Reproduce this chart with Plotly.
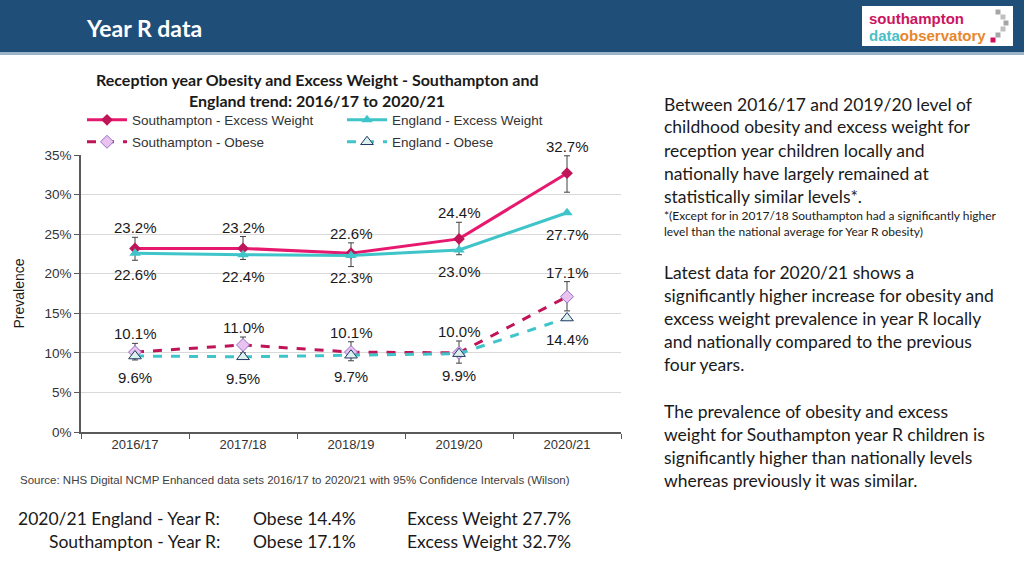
import plotly.graph_objects as go

# ---------------- data ----------------
years = ["2016/17", "2017/18", "2018/19", "2019/20", "2020/21"]
soton_excess = [23.2, 23.2, 22.6, 24.4, 32.7]
soton_excess_hi = [24.6, 24.7, 23.9, 26.5, 34.9]
soton_excess_lo = [21.7, 21.8, 20.9, 22.4, 30.3]
eng_excess = [22.6, 22.4, 22.3, 23.0, 27.7]
soton_obese = [10.1, 11.0, 10.1, 10.0, 17.1]
soton_obese_hi = [11.2, 12.0, 11.4, 11.5, 19.0]
soton_obese_lo = [9.1, 10.0, 9.0, 8.7, 15.3]
eng_obese = [9.6, 9.5, 9.7, 9.9, 14.4]
y_ticks = [0, 5, 10, 15, 20, 25, 30, 35]

W, H = 1024, 576
L, R, T, B = 81, 621, 155, 432


def px(x):
    return (x - L) / (R - L)


def py(y):
    return (B - y) / (B - T)


PINK = "#E6196E"
PINK_D = "#C01459"
TEAL = "#3FC5C9"
FONT = "Arial"
BODY = "Lato"

fig = go.Figure()

fig.add_trace(go.Scatter(
    x=years, y=soton_excess, name="Southampton - Excess Weight",
    mode="lines+markers", line=dict(color=PINK, width=3),
    marker=dict(symbol="diamond", size=9, color=PINK_D),
    error_y=dict(type="data", symmetric=False,
                 array=[h - v for h, v in zip(soton_excess_hi, soton_excess)],
                 arrayminus=[v - l for l, v in zip(soton_excess_lo, soton_excess)],
                 color="#404040", thickness=1, width=3),
    legend="legend"))
fig.add_trace(go.Scatter(
    x=years, y=eng_excess, name="England - Excess Weight",
    mode="lines+markers", line=dict(color=TEAL, width=3),
    marker=dict(symbol="triangle-up", size=10, color=TEAL),
    legend="legend"))
fig.add_trace(go.Scatter(
    x=years, y=soton_obese, name="Southampton - Obese",
    mode="lines+markers", line=dict(color=PINK_D, width=3, dash="dash"),
    marker=dict(symbol="diamond", size=10, color="#E8C3F0",
                line=dict(color="#9B6FC9", width=1)),
    error_y=dict(type="data", symmetric=False,
                 array=[h - v for h, v in zip(soton_obese_hi, soton_obese)],
                 arrayminus=[v - l for l, v in zip(soton_obese_lo, soton_obese)],
                 color="#404040", thickness=1, width=3),
    legend="legend2"))
fig.add_trace(go.Scatter(
    x=years, y=eng_obese, name="England - Obese",
    mode="lines+markers", line=dict(color=TEAL, width=3, dash="dash"),
    marker=dict(symbol="triangle-up", size=11, color="#DDF1EC",
                line=dict(color="#1F3864", width=1)),
    legend="legend2"))

ann = []
lab_font = dict(family=FONT, size=15, color="#1a1a1a")
# Southampton labels above upper CI, England labels below point
for yr, v, hi in zip(years, soton_excess, soton_excess_hi):
    ann.append(dict(x=yr, y=hi, text=f"{v:.1f}%", showarrow=False,
                    yanchor="bottom", yshift=-1, font=lab_font))
for yr, v in zip(years, eng_excess):
    ann.append(dict(x=yr, y=v, text=f"{v:.1f}%", showarrow=False,
                    yanchor="top", yshift=-11, font=lab_font))
for yr, v, hi in zip(years, soton_obese, soton_obese_hi):
    ann.append(dict(x=yr, y=hi, text=f"{v:.1f}%", showarrow=False,
                    yanchor="bottom", yshift=-1, font=lab_font))
for yr, v in zip(years, eng_obese):
    ann.append(dict(x=yr, y=v, text=f"{v:.1f}%", showarrow=False,
                    yanchor="top", yshift=-11, font=lab_font))


def ptext(x, y, text, size, color="#1a1a1a", family=BODY, xanchor="left",
          bold=False, yanchor="middle"):
    if bold:
        text = f"<b>{text}</b>"
    ann.append(dict(xref="paper", yref="paper", x=px(x), y=py(y), text=text,
                    showarrow=False, xanchor=xanchor, yanchor=yanchor,
                    font=dict(family=family, size=size, color=color)))


# header
ptext(84, 28, "Year R data", 23, color="white", bold=True)
# logo text
LOGO_FONT = "Liberation Sans Narrow, Arial Narrow, Arial"
ann.append(dict(xref="paper", yref="paper", x=px(867), y=py(19),
                text="<b>southampton</b>", showarrow=False, xanchor="left",
                yanchor="middle",
                font=dict(family=LOGO_FONT, size=15, color="#CC1460")))
ann.append(dict(xref="paper", yref="paper", x=px(867), y=py(35),
                text="<b><span style='color:#48C0C8'>data</span><span style='color:#E8862A'>observatory</span></b>",
                showarrow=False, xanchor="left", yanchor="middle",
                font=dict(family=LOGO_FONT, size=15, color="#E8862A")))

# chart title
ptext(317, 80, "Reception year Obesity and Excess Weight - Southampton and", 16,
      xanchor="center", bold=True)
ptext(317, 101, "England trend: 2016/17 to 2020/21", 16, xanchor="center", bold=True)

# source
ptext(18, 480, "Source: NHS Digital NCMP Enhanced data sets 2016/17 to 2020/21 with 95% Confidence Intervals (Wilson)",
      11.5, color="#404040", family=FONT)

# bottom summary
ptext(222, 518, "2020/21 England - Year R:", 17.5, xanchor="right")
ptext(222, 541, "Southampton - Year R:", 17.5, xanchor="right")
ptext(251, 518, "Obese 14.4%", 17.5)
ptext(251, 541, "Obese 17.1%", 17.5)
ptext(405, 518, "Excess Weight 27.7%", 17.5)
ptext(405, 541, "Excess Weight 32.7%", 17.5)

# right commentary
para1 = ["Between 2016/17 and 2019/20 level of",
         "childhood obesity and excess weight for",
         "reception year children locally and",
         "nationally have largely remained at",
         "statistically similar levels*."]
for i, line in enumerate(para1):
    ptext(662, 104 + 23 * i, line, 17.5)
ptext(662, 215, "*(Except for in 2017/18 Southampton had a significantly higher", 12)
ptext(662, 231, "level than the national average for Year R obesity)", 12)
para2 = ["Latest data for 2020/21 shows a",
         "significantly higher increase for obesity and",
         "excess weight prevalence in year R locally",
         "and nationally compared to the previous",
         "four years."]
for i, line in enumerate(para2):
    ptext(662, 272 + 23 * i, line, 17.5)
para3 = ["The prevalence of obesity and excess",
         "weight for Southampton year R children is",
         "significantly higher than nationally levels",
         "whereas previously it was similar."]
for i, line in enumerate(para3):
    ptext(662, 411 + 23 * i, line, 17.5)

shapes = [
    dict(type="rect", xref="paper", yref="paper", x0=px(0), x1=px(W),
         y0=py(0), y1=py(52), fillcolor="#1F4E79", line=dict(width=0), layer="below"),
    dict(type="rect", xref="paper", yref="paper", x0=px(0), x1=px(W),
         y0=py(52), y1=py(55), fillcolor="#9DB3C8", line=dict(width=0), layer="below"),
    dict(type="rect", xref="paper", yref="paper", x0=px(862), x1=px(1013),
         y0=py(6), y1=py(46), fillcolor="white", line=dict(width=0)),
]
# logo pixel chevron
for (cx, cy, col) in [(998, 12, "#A6A6A6"), (1003, 17, "#BFBFBF"), (1006, 23, "#A6A6A6"),
                      (1003, 29, "#BFBFBF"), (998, 35, "#A6A6A6"), (993, 40, "#D0105A")]:
    shapes.append(dict(type="rect", xref="paper", yref="paper",
                       x0=px(cx - 2.5), x1=px(cx + 2.5), y0=py(cy - 2.5), y1=py(cy + 2.5),
                       fillcolor=col, line=dict(width=0)))

leg_common = dict(orientation="h", xanchor="left", yanchor="middle",
                  entrywidth=205, entrywidthmode="pixels",
                  font=dict(family=FONT, size=13.5, color="#333333"),
                  bgcolor="rgba(0,0,0,0)", borderwidth=0, itemwidth=40,
                  tracegroupgap=0)

fig.update_layout(
    width=W, height=H,
    margin=dict(l=L, r=W - R, t=T, b=H - B, pad=0),
    paper_bgcolor="white", plot_bgcolor="white",
    showlegend=True,
    legend=dict(x=px(82), y=py(120), **leg_common),
    legend2=dict(x=px(82), y=py(142), **leg_common),
    xaxis=dict(type="category", range=[-0.5, 4.5], showgrid=False,
               showline=True, linecolor="#595959", linewidth=1.5,
               ticks="outside", tickson="boundaries", ticklen=5, tickcolor="#595959",
               tickfont=dict(family=FONT, size=13, color="#333333")),
    yaxis=dict(range=[0, 35], tickvals=y_ticks,
               ticktext=[f"{t}%" for t in y_ticks],
               showgrid=True, gridcolor="#D9D9D9", gridwidth=1,
               showline=True, linecolor="#595959", linewidth=1.5,
               ticks="outside", ticklen=5, tickcolor="#595959", zeroline=False,
               tickfont=dict(family=FONT, size=13.5, color="#333333"),
               title=dict(text="Prevalence", font=dict(family=FONT, size=14, color="#1a1a1a"),
                          standoff=17)),
    annotations=ann,
    shapes=shapes,
)

fig.write_html("out.html", config={"displayModeBar": False},
               post_script="document.body.style.margin='0';document.body.style.overflow='hidden';")
